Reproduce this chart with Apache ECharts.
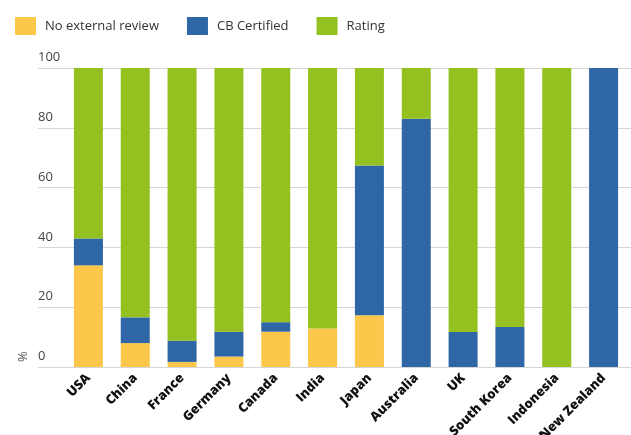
<!DOCTYPE html>
<html>
<head>
    <meta charset="utf-8">
    <title>ECharts</title>
    <script src="https://cdn.jsdelivr.net/npm/echarts@6/dist/echarts.min.js"></script>
    <style>
        html, body { margin: 0; padding: 0; background: #fff; }
    </style>
</head>
<body>

    <div id="main" style="width: 631px;height:435px;"></div>

    <script type="text/javascript">

        var countries = ['USA', 'China', 'France', 'Germany', 'Canada', 'India', 'Japan',
            'Australia', 'UK', 'South Korea', 'Indonesia', 'New Zealand'];
        var noReview = [34, 8, 1.7, 3.5, 11.8, 12.9, 17.3, 0, 0, 0, 0, 0];
        var cbCertified = [9, 8.6, 7.1, 8.3, 3.2, 0, 50.1, 83, 11.7, 13.4, 0, 100];
        var rating = [57, 83.4, 91.2, 88.2, 85, 87.1, 32.6, 17, 88.3, 86.6, 100, 0];
        var yTicks = [0, 20, 40, 60, 80, 100];

        var font = 'Open Sans';
        var myChart = echarts.init(document.getElementById('main'));

        var option = {
            animation: false,
            color: ['#fcc74a', '#2f66a6', '#94c11f'],
            legend: {
                left: 10,
                top: 12,
                icon: 'rect',
                itemWidth: 21,
                itemHeight: 18,
                itemGap: 28,
                textStyle: { fontFamily: font, fontSize: 13, color: '#333', padding: [0, 0, 0, 4] },
                data: ['No external review', 'CB Certified', 'Rating']
            },
            graphic: [{
                type: 'text',
                x: 17,
                y: 362,
                rotation: Math.PI / 2,
                style: { text: '%', fontFamily: font, fontSize: 13, fill: '#555' }
            }],
            grid: [
                { left: 38, right: 0, top: 68, bottom: 68, outerBoundsMode: 'none' },
                { left: 65, right: 4, top: 68, bottom: 68, outerBoundsMode: 'none' }
            ],
            xAxis: [
                { gridIndex: 0, type: 'value', show: false, min: 0, max: 1 },
                {
                    gridIndex: 1,
                    type: 'category',
                    data: countries,
                    axisLine: { show: false },
                    axisTick: { show: false },
                    axisLabel: {
                        interval: 0,
                        rotate: 45,
                        margin: 9,
                        fontFamily: font,
                        fontSize: 13,
                        fontWeight: 800,
                        color: '#111'
                    }
                }
            ],
            yAxis: [
                {
                    gridIndex: 0,
                    type: 'value',
                    min: 0,
                    max: 100,
                    interval: 20,
                    axisLine: { show: false },
                    axisTick: { show: false },
                    splitLine: { lineStyle: { color: '#d6d6d6', width: 1 } },
                    axisLabel: {
                        inside: true,
                        margin: 0,
                        verticalAlign: 'bottom',
                        padding: [0, 0, 4, 0],
                        fontFamily: font,
                        fontSize: 13,
                        color: '#444',
                        formatter: function (v) { return yTicks.indexOf(v) >= 0 ? String(v) : ''; }
                    }
                },
                { gridIndex: 1, type: 'value', min: 0, max: 100, show: false }
            ],
            series: [
                { name: 'No external review', type: 'bar', stack: 'a', xAxisIndex: 1, yAxisIndex: 1, barWidth: 29, data: noReview },
                { name: 'CB Certified', type: 'bar', stack: 'a', xAxisIndex: 1, yAxisIndex: 1, barWidth: 29, data: cbCertified },
                { name: 'Rating', type: 'bar', stack: 'a', xAxisIndex: 1, yAxisIndex: 1, barWidth: 29, data: rating }
            ]
        };

        myChart.setOption(option);
    </script>
</body>
</html>
